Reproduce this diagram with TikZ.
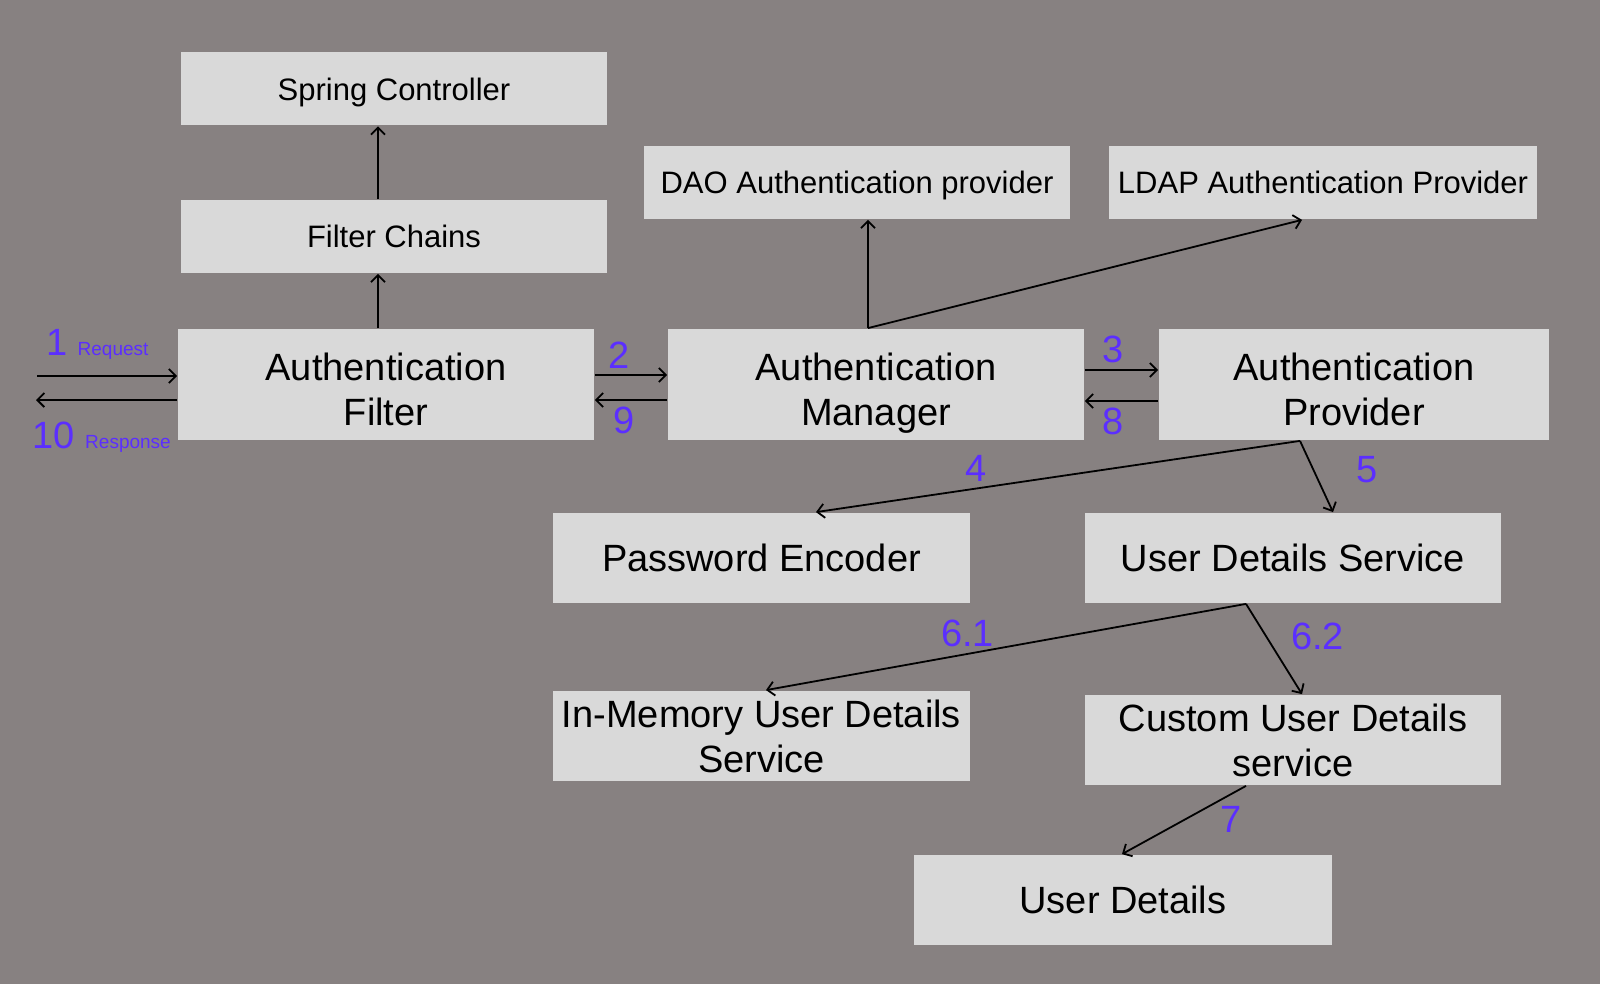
\documentclass[tikz,border=0pt]{standalone}
\usepackage{fontspec}
\setmainfont{Liberation Sans}
\usepackage{tikz}
\usetikzlibrary{arrows.meta}
\definecolor{bggrey}{HTML}{878181}
\definecolor{boxgrey}{HTML}{D9D9D9}
\definecolor{stepblue}{HTML}{5B2EFF}

\begin{document}
\begin{tikzpicture}[x=1pt, y=-1pt, line width=1.8pt,
  >={Straight Barb[length=7pt, width=14pt]},
  bigbox/.style={fill=boxgrey, minimum width=416pt, minimum height=111pt, align=center, text height=81pt, text depth=0pt, font=\fontsize{38}{45}\selectfont},
  midbox/.style={fill=boxgrey, minimum width=417pt, minimum height=90pt, align=center, font=\fontsize{38}{45}\selectfont},
  smallbox/.style={fill=boxgrey, minimum width=426pt, minimum height=73pt, text depth=0pt, font=\fontsize{31}{37}\selectfont},
  num/.style={text=stepblue, inner sep=6pt, font=\fontsize{38}{42}\selectfont}]
\fill[bggrey] (0,0) rectangle (1600,984);
\node[smallbox] (SC) at (394,89) {Spring Controller};
\node[smallbox] (FC) at (394,236.5) {Filter Chains};
\node[bigbox] (AF) at (386,384.5) {Authentication\\Filter};
\node[bigbox] (AM) at (876,384.5) {Authentication\\Manager};
\node[bigbox, minimum width=390pt] (AP) at (1354,384.5) {Authentication\\Provider};
\node[smallbox] (DAO) at (857,182.5) {DAO Authentication provider};
\node[smallbox, minimum width=428pt] (LDAP) at (1323,182.5) {LDAP Authentication Provider};
\node[midbox] (PE) at (761.5,558) {Password Encoder};
\node[midbox, minimum width=416pt] (UDS) at (1293,558) {User Details Service};
\node[midbox] (IM) at (761.5,736) {In-Memory User Details\\Service};
\node[midbox, minimum width=416pt] (CUDS) at (1293,740) {Custom User Details\\service};
\node[midbox, minimum width=418pt] (UD) at (1123,900) {User Details};
\coordinate (req) at (37,376);
\coordinate (res) at (36,400);

\draw [->] (req) -- node[num, pos=0.43, above=10pt] {1 {\fontsize{19}{22}\selectfont Request}} ([yshift=8.5pt]AF.west);
\draw [->] ([yshift=-15.5pt]AF.west) -- node[num, pos=0.535, below=15pt] {10 {\fontsize{19}{22}\selectfont Response}} (res);
\draw [->] ([xshift=-8pt]AF.north) -- ([xshift=-16pt]FC.south);
\draw [->] ([xshift=-16pt]FC.north) -- ([xshift=-16pt]SC.south);
\draw [->] ([yshift=9.5pt]AF.east) -- node[num, pos=0.34, above] {2} ([yshift=9.5pt]AM.west);
\draw [->] ([yshift=-15.5pt]AM.west) -- node[num, pos=0.6, below] {9} ([yshift=-15.5pt]AF.east);
\draw [->] ([yshift=14.5pt]AM.east) -- node[num, pos=0.39, above] {3} ([yshift=14.5pt]AP.west);
\draw [->] ([yshift=-16.5pt]AP.west) -- node[num, pos=0.61, below] {8} ([yshift=-16.5pt]AM.east);
\draw [->] ([xshift=-8pt]AM.north) -- ([xshift=11pt]DAO.south);
\draw [->] ([xshift=-8pt]AM.north) -- ([xshift=-21pt]LDAP.south);
\draw [->] ([xshift=-54pt]AP.south) -- node[num, pos=0.67, above] {4} ([xshift=54.5pt]PE.north);
\draw [->] ([xshift=-54pt]AP.south) -- node[num, pos=0.4, right=36pt] {5} ([xshift=40pt]UDS.north);
\draw [->] ([xshift=-47pt]UDS.south) -- node[num, pos=0.58, above] {6.1} ([xshift=4.5pt]IM.north);
\draw [->] ([xshift=-47pt]UDS.south) -- node[num, pos=0.36, right=18pt] {6.2} ([xshift=9pt]CUDS.north);
\draw [->] ([xshift=-47pt]CUDS.south) -- node[num, pos=0.49, right=28pt] {7} ([xshift=-1pt]UD.north);
\end{tikzpicture}
\end{document}
